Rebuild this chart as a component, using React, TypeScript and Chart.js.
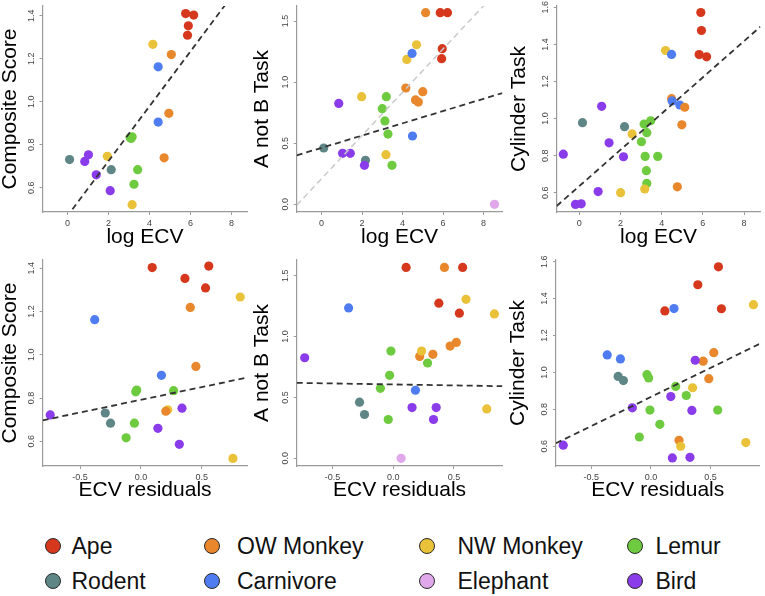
import React, { useEffect, useRef } from "react";
import { Chart, registerables } from "chart.js";

Chart.register(...registerables);

// ---------- data ----------
const groupNames = ["Ape", "OW Monkey", "NW Monkey", "Lemur", "Rodent", "Carnivore", "Elephant", "Bird"];
const groupColors = ["#D6381E", "#E8872C", "#E9C23A", "#6ECB3F", "#5F8686", "#4F7DF1", "#E0A8EA", "#8A3CEA"];

// group codes: 0 Ape, 1 OW Monkey, 2 NW Monkey, 3 Lemur, 4 Rodent, 5 Carnivore, 6 Elephant, 7 Bird
const compositeGroup = [0, 0, 0, 0, 2, 1, 5, 1, 5, 3, 3, 3, 4, 7, 7, 2, 1, 7, 4, 3, 3, 7, 2];
const compositeScore = [1.41, 1.403, 1.353, 1.309, 1.267, 1.219, 1.162, 0.946, 0.905, 0.837, 0.829, 0.834, 0.731, 0.753, 0.722, 0.746, 0.739, 0.66, 0.684, 0.684, 0.616, 0.586, 0.521];
const compositeLogEcv = [5.76, 6.15, 5.89, 5.85, 4.16, 5.06, 4.42, 4.94, 4.42, 3.15, 3.1, 3.05, 0.1, 1.02, 0.84, 1.94, 4.71, 1.4, 2.13, 3.42, 3.24, 2.08, 3.15];
const compositeResidual = [0.557, 0.092, 0.361, 0.53, 0.815, 0.405, -0.38, 0.451, 0.168, -0.035, -0.043, 0.268, -0.293, 0.337, -0.745, 0.22, 0.204, 0.139, -0.25, -0.054, -0.122, 0.315, 0.755];

const aNotBGroup = [0, 0, 1, 0, 0, 2, 2, 5, 1, 1, 1, 1, 2, 3, 7, 3, 3, 3, 5, 4, 7, 7, 4, 7, 2, 3, 6];
const aNotBScore = [1.568, 1.568, 1.568, 1.274, 1.192, 1.306, 1.186, 1.235, 0.952, 0.922, 0.854, 0.837, 0.881, 0.881, 0.826, 0.783, 0.682, 0.575, 0.559, 0.461, 0.417, 0.417, 0.36, 0.319, 0.406, 0.319, 0.0];
const aNotBLogEcv = [5.86, 6.22, 5.14, 5.96, 5.93, 4.69, 4.21, 4.47, 4.16, 5.0, 4.64, 4.78, 1.98, 3.2, 0.85, 3.0, 3.13, 3.28, 4.49, 0.11, 1.04, 1.42, 2.17, 2.12, 3.18, 3.48, 8.54];
const aNotBResidual = [0.106, 0.572, 0.422, 0.376, 0.545, 0.6, 0.834, -0.368, 0.52, 0.469, 0.327, 0.218, 0.234, -0.019, -0.73, 0.283, -0.03, -0.106, 0.183, -0.278, 0.155, 0.354, -0.237, 0.332, 0.771, -0.041, 0.065];

const cylinderGroup = [0, 0, 0, 0, 2, 5, 1, 5, 5, 1, 1, 7, 4, 4, 3, 3, 3, 2, 3, 7, 7, 7, 3, 3, 3, 3, 2, 1, 7, 2, 7, 7];
const cylinderScore = [1.572, 1.475, 1.345, 1.333, 1.367, 1.346, 1.107, 1.095, 1.073, 1.061, 0.966, 1.066, 0.978, 0.956, 0.988, 0.97, 0.924, 0.917, 0.875, 0.869, 0.808, 0.794, 0.796, 0.796, 0.719, 0.65, 0.62, 0.632, 0.606, 0.6, 0.537, 0.54];
const cylinderLogEcv = [5.9, 5.93, 5.82, 6.18, 4.19, 4.48, 4.48, 4.51, 4.88, 5.12, 4.98, 1.09, 0.16, 2.2, 3.47, 3.15, 3.28, 2.57, 3.02, 1.45, -0.77, 2.15, 3.2, 3.81, 3.26, 3.28, 3.18, 4.76, 0.92, 2.01, -0.18, 0.1];
const cylinderResidual = [0.567, 0.394, 0.592, 0.117, 0.861, 0.194, 0.528, -0.367, -0.256, 0.439, 0.486, 0.372, -0.275, -0.231, -0.033, -0.019, 0.208, 0.35, 0.297, 0.167, -0.156, 0.344, -0.008, 0.561, 0.075, -0.097, 0.797, 0.236, -0.736, 0.25, 0.18, 0.328];

const logEcvTicks = [0, 2, 4, 6, 8];
const residualTicks = [-0.5, 0, 0.5];
const compositeTicks = [0.6, 0.8, 1.0, 1.2, 1.4];
const aNotBTicks = [0, 0.5, 1.0, 1.5];
const cylinderTicks = [0.6, 0.8, 1.0, 1.2, 1.4, 1.6];

// regression lines (intercept, slope) per panel, in panel order
const fitIntercept = [0.469, 0.462, 0.635, 0.792, 0.607, 0.867];
const fitSlope = [0.1276, 0.0502, 0.0979, 0.1176, -0.016, 0.315];
// light grey line in the A not B / log ECV panel
const aNotBLightFit = [0.209, 0.177];

// ---------- layout ----------
const FONT = "'Liberation Sans', Arial, Helvetica, sans-serif";
const AXIS_COLOR = "#9a9a9a";
const TICK_COLOR = "#444";

type Panel = {
  xs: number[]; ys: number[]; groups: number[];
  xMin: number; xMax: number; yMin: number; yMax: number;
  xTicks: number[]; yTicks: number[]; xTitle: string; yTitle: string;
  xFmt: (v: number) => string;
  fit: number; light?: number[];
  area: { l: number; r: number; t: number; b: number };
  yTitleX: number; xTitleY: number;
};

const fmt1 = (v: number) => v.toFixed(1);
const fmt0 = (v: number) => String(v);

const panels: Panel[] = [
  { xs: compositeLogEcv, ys: compositeScore, groups: compositeGroup, xMin: -1.22, xMax: 8.77, yMin: 0.487, yMax: 1.445,
    xTicks: logEcvTicks, yTicks: compositeTicks, xTitle: "log ECV", yTitle: "Composite Score", xFmt: fmt0, fit: 0,
    area: { l: 42.5, r: 249, t: 6, b: 212 }, yTitleX: 10.3, xTitleY: 237 },
  { xs: aNotBLogEcv, ys: aNotBScore, groups: aNotBGroup, xMin: -1.225, xMax: 8.93, yMin: -0.063, yMax: 1.623,
    xTicks: logEcvTicks, yTicks: aNotBTicks, xTitle: "log ECV", yTitle: "A not B Task", xFmt: fmt0, fit: 1, light: aNotBLightFit,
    area: { l: 296.7, r: 504, t: 6, b: 212 }, yTitleX: 262.8, xTitleY: 237 },
  { xs: cylinderLogEcv, ys: cylinderScore, groups: cylinderGroup, xMin: -1.09, xMax: 8.79, yMin: 0.496, yMax: 1.607,
    xTicks: logEcvTicks, yTicks: cylinderTicks, xTitle: "log ECV", yTitle: "Cylinder Task", xFmt: fmt0, fit: 2,
    area: { l: 556.7, r: 761.5, t: 6, b: 212 }, yTitleX: 519.2, xTitleY: 237 },
  { xs: compositeResidual, ys: compositeScore, groups: compositeGroup, xMin: -0.807, xMax: 0.874, yMin: 0.486, yMax: 1.438,
    xTicks: residualTicks, yTicks: compositeTicks, xTitle: "ECV residuals", yTitle: "Composite Score", xFmt: fmt1, fit: 3,
    area: { l: 42.7, r: 249, t: 260, b: 466 }, yTitleX: 10, xTitleY: 490.7 },
  { xs: aNotBResidual, ys: aNotBScore, groups: aNotBGroup, xMin: -0.796, xMax: 0.9, yMin: -0.063, yMax: 1.629,
    xTicks: residualTicks, yTicks: aNotBTicks, xTitle: "ECV residuals", yTitle: "A not B Task", xFmt: fmt1, fit: 4,
    area: { l: 296.7, r: 504, t: 260, b: 466 }, yTitleX: 262.5, xTitleY: 490.7 },
  { xs: cylinderResidual, ys: cylinderScore, groups: cylinderGroup, xMin: -0.797, xMax: 0.911, yMin: 0.493, yMax: 1.609,
    xTicks: residualTicks, yTicks: cylinderTicks, xTitle: "ECV residuals", yTitle: "Cylinder Task", xFmt: fmt1, fit: 5,
    area: { l: 556, r: 761, t: 260, b: 466 }, yTitleX: 518.8, xTitleY: 490.7 },
];

function geometry(p: Panel) {
  const left = Math.round(p.yTitleX - 10.5);
  const top = p.area.t - 6;
  const width = Math.round(p.area.r + 3 - left);
  const height = Math.round(p.xTitleY + 10.5) - top;
  return {
    left, top, width, height,
    yScaleW: p.area.l - left,
    xScaleH: top + height - p.area.b,
    padRight: left + width - p.area.r,
  };
}

function ScatterPanel({ p }: { p: Panel }) {
  const ref = useRef<HTMLCanvasElement>(null);
  const g = geometry(p);
  useEffect(() => {
    const line = (a: number, b: number) => [
      { x: p.xMin, y: a + b * p.xMin },
      { x: p.xMax, y: a + b * p.xMax },
    ];
    const datasets: any[] = [
      {
        data: line(fitIntercept[p.fit], fitSlope[p.fit]),
        showLine: true, borderColor: "#333", borderWidth: 1.8, borderDash: [6, 4],
        pointRadius: 0, fill: false,
      },
    ];
    if (p.light) {
      datasets.push({
        data: line(p.light[0], p.light[1]),
        showLine: true, borderColor: "#c9c9c9", borderWidth: 1.5, borderDash: [6, 4],
        pointRadius: 0, fill: false,
      });
    }
    const colors = p.groups.map((k) => groupColors[k]);
    datasets.push({
      data: p.xs.map((x, i) => ({ x, y: p.ys[i] })),
      backgroundColor: colors, borderColor: colors, borderWidth: 0,
      pointRadius: 4.6, pointHoverRadius: 4.6,
    });

    const tickFont = { family: FONT, size: 9 };
    const titleFont = { family: FONT, size: 21, lineHeight: 1 };
    const chart = new Chart(ref.current as HTMLCanvasElement, {
      type: "scatter",
      data: { datasets },
      options: {
        animation: false,
        responsive: false,
        devicePixelRatio: 1,
        events: [],
        layout: { padding: { left: 0, top: 6, right: g.padRight, bottom: 0 } },
        plugins: { legend: { display: false }, tooltip: { enabled: false } },
        scales: {
          x: {
            type: "linear", min: p.xMin, max: p.xMax,
            afterBuildTicks: (s: any) => { s.ticks = p.xTicks.map((v) => ({ value: v })); },
            afterFit: (s: any) => { s.height = g.xScaleH; s.paddingLeft = 0; s.paddingRight = 0; },
            grid: { display: true, drawOnChartArea: false, drawTicks: true, tickLength: 3, color: AXIS_COLOR, lineWidth: 1 },
            border: { display: true, color: AXIS_COLOR, width: 1.2 },
            ticks: { color: TICK_COLOR, font: tickFont, padding: 3, minRotation: 0, maxRotation: 0, autoSkip: false,
              callback: (v: any) => p.xFmt(Number(v)) },
            title: { display: true, text: p.xTitle, color: "#000", font: titleFont, padding: 0 },
          },
          y: {
            type: "linear", min: p.yMin, max: p.yMax,
            afterBuildTicks: (s: any) => { s.ticks = p.yTicks.map((v) => ({ value: v })); },
            afterFit: (s: any) => { s.width = g.yScaleW; s.paddingTop = 0; s.paddingBottom = 0; },
            grid: { display: true, drawOnChartArea: false, drawTicks: true, tickLength: 3, color: AXIS_COLOR, lineWidth: 1 },
            border: { display: true, color: AXIS_COLOR, width: 1.2 },
            ticks: { color: TICK_COLOR, font: tickFont, padding: 2, minRotation: 90, maxRotation: 90, crossAlign: "center",
              autoSkip: false, callback: (v: any) => fmt1(Number(v)) },
            title: { display: true, text: p.yTitle, color: "#000", font: titleFont, padding: 0 },
          },
        },
      } as any,
    });
    return () => chart.destroy();
  }, []);
  return (
    <canvas
      ref={ref}
      width={g.width}
      height={g.height}
      style={{ position: "absolute", left: g.left, top: g.top, width: g.width, height: g.height }}
    />
  );
}

const legendCircleX = [52.5, 212, 427, 634.5];
const legendTextX = [71.5, 237, 457.5, 655.5];
const legendRowY = [545.5, 581.3];

function Legend() {
  return (
    <>
      {groupNames.map((name, i) => {
        const row = Math.floor(i / 4);
        const col = i % 4;
        const cy = legendRowY[row];
        return (
          <React.Fragment key={name}>
            <div
              style={{
                position: "absolute", left: legendCircleX[col] - 8, top: cy - 8, width: 16, height: 16,
                borderRadius: "50%", background: groupColors[i], border: "1px solid #2a2a2a", boxSizing: "border-box",
              }}
            />
            <div
              style={{
                position: "absolute", left: legendTextX[col], top: cy - 13, height: 26, lineHeight: "26px",
                fontFamily: FONT, fontSize: 23, color: "#111", whiteSpace: "nowrap",
              }}
            >
              {name}
            </div>
          </React.Fragment>
        );
      })}
    </>
  );
}

export default function App() {
  return (
    <div style={{ position: "absolute", left: 0, top: 0, width: 765, height: 596, background: "#fff", overflow: "hidden" }}>
      {panels.map((p, i) => (
        <ScatterPanel key={i} p={p} />
      ))}
      <Legend />
    </div>
  );
}
